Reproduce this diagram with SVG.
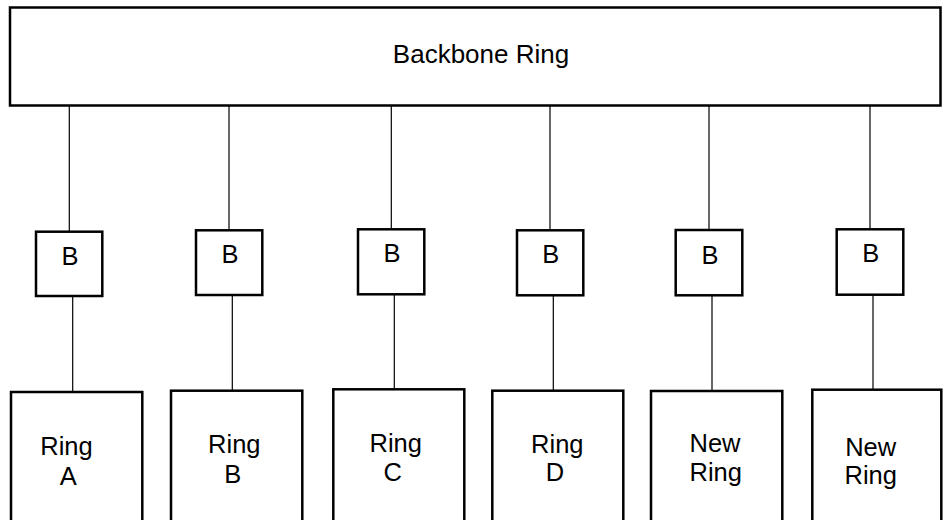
<svg xmlns="http://www.w3.org/2000/svg" width="943" height="520" viewBox="0 0 943 520">
<style>
.box{fill:#fff;stroke:#000;stroke-width:2.5}
.ln{stroke:#000;stroke-width:1.2;fill:none}
text{font-family:"Liberation Sans",Arial,sans-serif;font-size:25.5px;fill:#000;text-anchor:middle}
</style>
<rect width="943" height="520" fill="#fff"/>
<g id="connectors">
<line class="ln" x1="69.3" y1="106" x2="69.3" y2="232"/>
<line class="ln" x1="72.7" y1="296" x2="72.7" y2="392"/>
<line class="ln" x1="229" y1="106" x2="229" y2="231"/>
<line class="ln" x1="232.3" y1="295" x2="232.3" y2="390"/>
<line class="ln" x1="391.3" y1="106" x2="391.3" y2="230"/>
<line class="ln" x1="394.3" y1="294" x2="394.3" y2="389"/>
<line class="ln" x1="550" y1="106" x2="550" y2="231"/>
<line class="ln" x1="553.3" y1="295" x2="553.3" y2="390"/>
<line class="ln" x1="709" y1="106" x2="709" y2="230"/>
<line class="ln" x1="712" y1="295" x2="712" y2="390"/>
<line class="ln" x1="870" y1="106" x2="870" y2="230"/>
<line class="ln" x1="873" y1="295" x2="873" y2="389"/>
</g>
<g id="backbone">
<rect class="box" x="10" y="7.5" width="930.5" height="98"/>
<text x="481" y="63.3" style="font-size:26px">Backbone Ring</text>
</g>
<g id="b1"><rect class="box" x="36" y="231.7" width="66.3" height="64.3"/><text x="70" y="265">B</text></g>
<g id="b2"><rect class="box" x="196" y="230.3" width="66.3" height="64.7"/><text x="230" y="263">B</text></g>
<g id="b3"><rect class="box" x="358" y="229.3" width="66.3" height="65"/><text x="392" y="262.3">B</text></g>
<g id="b4"><rect class="box" x="517" y="230.3" width="66.3" height="65"/><text x="550.7" y="263.3">B</text></g>
<g id="b5"><rect class="box" x="675.7" y="230" width="66.6" height="65.3"/><text x="710" y="264">B</text></g>
<g id="b6"><rect class="box" x="836.7" y="229.3" width="66.6" height="65.4"/><text x="870.7" y="262.3">B</text></g>
<g id="ringA"><rect class="box" x="11" y="392" width="131.3" height="140"/><text x="66.5" y="455">Ring</text><text x="68.3" y="485">A</text></g>
<g id="ringB"><rect class="box" x="171" y="390.7" width="131.3" height="140"/><text x="234.3" y="453">Ring</text><text x="232.7" y="482.7">B</text></g>
<g id="ringC"><rect class="box" x="333.3" y="389.3" width="131" height="140"/><text x="395.7" y="451.7">Ring</text><text x="392.7" y="481">C</text></g>
<g id="ringD"><rect class="box" x="492.3" y="390.7" width="131" height="140"/><text x="557.3" y="452.8">Ring</text><text x="555" y="481.2">D</text></g>
<g id="newRing1"><rect class="box" x="651" y="391" width="131.3" height="140"/><text x="715" y="452.2">New</text><text x="715.7" y="480.8">Ring</text></g>
<g id="newRing2"><rect class="box" x="812.3" y="389.7" width="129" height="140"/><text x="870.7" y="455.6">New</text><text x="870.7" y="484.2">Ring</text></g>
</svg>
